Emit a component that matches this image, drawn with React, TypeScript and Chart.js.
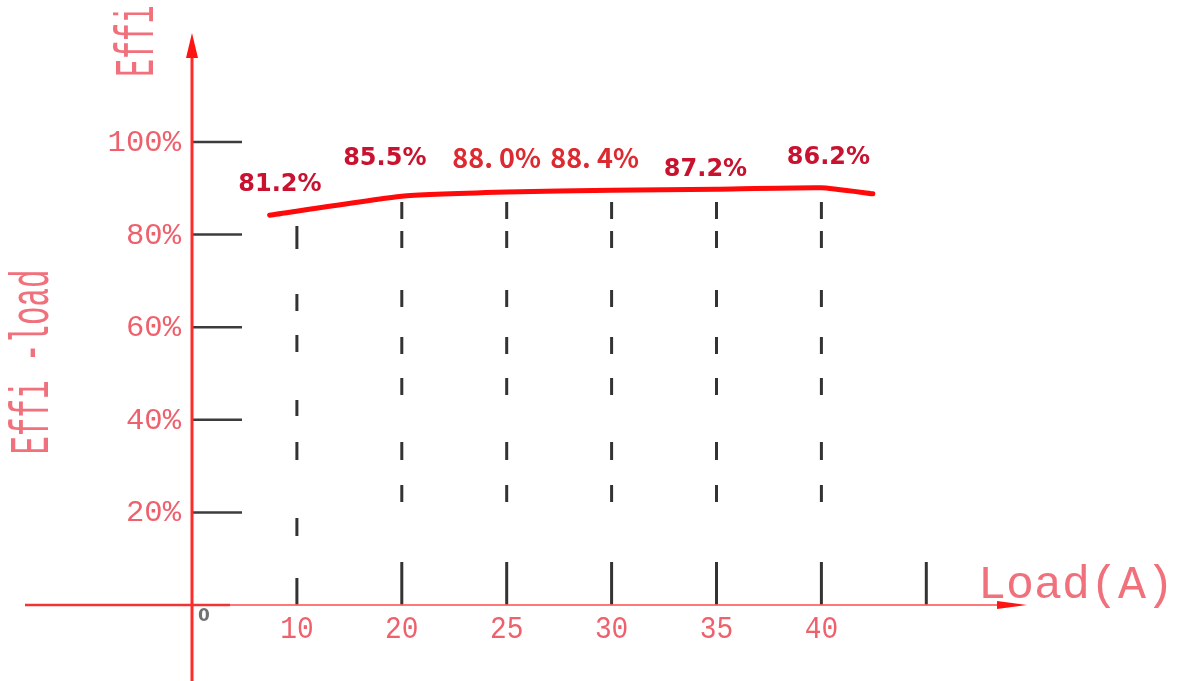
import { useEffect, useRef } from 'react';
import { Chart, registerables } from 'chart.js';

Chart.register(...registerables);

// ---------- data ----------
const loadTicks = ['10', '20', '25', '30', '35', '40', ''];
const effTicks = [20, 40, 60, 80, 100];
// curve, x in load-axis tick units (tick n = n), y in %
const curveLoad = [0.74, 2, 3, 4, 5, 6, 6.49];
const curveEff = [84.2, 88.3, 89.2, 89.6, 89.8, 90.1, 88.8];
const effLabels = ['81.2%', '85.5%', '88. 0%', '88. 4%', '87.2%', '86.2%'];
const xTitle = 'Load(A)';
const yTitle = 'Effi -load';
const yTopTitle = 'Effi';

// ---------- layout / style ----------
const W = 1184;
const H = 681;
const ORIGIN_X = 192;
const ORIGIN_Y = 605;
const UNIT_X = 104.9;
const UNIT_Y = 4.63;
const LABEL_DX = [-17, -17, -10, -17, -11, 7];
const LABEL_DY = [40, 14, 15, 15, 25, 13];
const LABEL_ALT = [false, false, true, true, false, false];
const DASH_FIRST = [27, 42, 18, 58, 18, 26, 16, 48, 17, 24, 17, 45, 23, 40];
const DASH_REST = [43, 60, 17, 25, 18, 47, 17, 24, 17, 30, 17, 42, 17, 12, 17, 40];
const CAD = 'rgb(238,96,108)';
const CAD_LIGHT = 'rgb(240,112,124)';

function cadText(
  ctx: CanvasRenderingContext2D,
  text: string,
  x: number,
  y: number,
  capH: number,
  sx: number,
  color: string,
  align: CanvasTextAlign,
  rotate = false
) {
  const size = capH / 0.6;
  ctx.save();
  ctx.translate(x, y);
  if (rotate) ctx.rotate(-Math.PI / 2);
  ctx.scale(sx, 1);
  ctx.font = `${size}px "Liberation Mono"`;
  ctx.fillStyle = color;
  ctx.textAlign = align;
  ctx.textBaseline = 'alphabetic';
  ctx.fillText(text, 0, capH / 2);
  ctx.restore();
}

const drawPlugin = {
  id: 'cadDrawing',
  beforeDatasetsDraw(chart: any) {
    const ctx: CanvasRenderingContext2D = chart.ctx;
    const xs = chart.scales.x;
    const ys = chart.scales.y;
    const x0 = xs.getPixelForValue(0);
    const y0 = ys.getPixelForValue(0);

    ctx.save();
    // dashed verticals
    ctx.strokeStyle = '#333';
    ctx.lineWidth = 3;
    loadTicks.forEach((_, i) => {
      const px = xs.getPixelForValue(i + 1);
      ctx.beginPath();
      if (i === loadTicks.length - 1) {
        ctx.setLineDash([]);
        ctx.moveTo(px, y0);
        ctx.lineTo(px, y0 - 43);
      } else {
        ctx.setLineDash(i === 0 ? DASH_FIRST : DASH_REST);
        ctx.moveTo(px, y0);
        ctx.lineTo(px, i === 0 ? ys.getPixelForValue(82.4) : ys.getPixelForValue(87.8));
      }
      ctx.stroke();
    });
    ctx.setLineDash([]);

    // y tick marks
    ctx.strokeStyle = '#3c3c3c';
    ctx.lineWidth = 2.5;
    effTicks.forEach((v) => {
      const py = ys.getPixelForValue(v);
      ctx.beginPath();
      ctx.moveTo(x0 + 1, py);
      ctx.lineTo(x0 + 50, py);
      ctx.stroke();
    });

    // x axis
    ctx.lineWidth = 2.5;
    ctx.strokeStyle = '#f03434';
    ctx.beginPath();
    ctx.moveTo(25, y0);
    ctx.lineTo(x0 + 38, y0);
    ctx.stroke();
    ctx.lineWidth = 2;
    ctx.strokeStyle = 'rgba(255,95,95,0.85)';
    ctx.beginPath();
    ctx.moveTo(x0 + 38, y0);
    ctx.lineTo(1000, y0);
    ctx.stroke();
    ctx.fillStyle = '#ff1414';
    ctx.beginPath();
    ctx.moveTo(1027, y0);
    ctx.lineTo(997, y0 - 4);
    ctx.lineTo(997, y0 + 4);
    ctx.closePath();
    ctx.fill();

    // y axis
    ctx.lineWidth = 3;
    ctx.strokeStyle = '#ff2a2a';
    ctx.beginPath();
    ctx.moveTo(x0, H);
    ctx.lineTo(x0, 52);
    ctx.stroke();
    ctx.fillStyle = '#ff1414';
    ctx.beginPath();
    ctx.moveTo(x0, 33);
    ctx.lineTo(x0 - 6, 58);
    ctx.lineTo(x0 + 6, 58);
    ctx.closePath();
    ctx.fill();

    // y tick labels
    effTicks.forEach((v) => {
      cadText(ctx, `${v}%`, x0 - 11, ys.getPixelForValue(v), 18, 1.02, CAD, 'right');
    });
    // x tick labels
    loadTicks.forEach((t, i) => {
      if (!t) return;
      cadText(ctx, t, xs.getPixelForValue(i + 1), y0 + 23, 19, 0.88, CAD, 'center');
    });

    // origin
    ctx.font = 'bold 17px "DejaVu Sans"';
    ctx.fillStyle = '#727272';
    ctx.textAlign = 'center';
    ctx.textBaseline = 'alphabetic';
    ctx.fillText('0', x0 + 12, y0 + 16);

    // titles
    cadText(ctx, xTitle, 978, y0 - 21, 28, 1.0, CAD_LIGHT, 'left');
    cadText(ctx, yTitle, 31, 362, 33, 0.56, CAD_LIGHT, 'center', true);
    cadText(ctx, yTopTitle, 136, 41, 33, 0.54, CAD_LIGHT, 'center', true);
    ctx.restore();
  },
  afterDatasetsDraw(chart: any) {
    const ctx: CanvasRenderingContext2D = chart.ctx;
    const xs = chart.scales.x;
    const ys = chart.scales.y;
    ctx.save();
    ctx.textAlign = 'center';
    effLabels.forEach((lab, i) => {
      const px = xs.getPixelForValue(i + 1) + LABEL_DX[i];
      const py = ys.getPixelForValue(100) + LABEL_DY[i];
      ctx.textBaseline = 'alphabetic';
      if (LABEL_ALT[i]) {
        ctx.font = 'bold 27px "Noto Sans CJK SC"';
        ctx.fillStyle = '#dc2a30';
        ctx.fillText(lab, px, py + 10.5);
      } else {
        ctx.font = 'bold 24px "DejaVu Sans"';
        ctx.fillStyle = '#c8122f';
        ctx.fillText(lab, px, py + 8.7);
      }
    });
    ctx.restore();
  },
};

export default function App() {
  const ref = useRef<HTMLCanvasElement | null>(null);
  useEffect(() => {
    document.body.style.margin = '0';
    if (!ref.current) return;
    const chart = new Chart(ref.current, {
      type: 'line',
      data: {
        datasets: [
          {
            data: curveLoad.map((x, i) => ({ x, y: curveEff[i] })),
            borderColor: '#ff0a0a',
            borderWidth: 5,
            pointRadius: 0,
            tension: 0.15,
            fill: false,
            borderCapStyle: 'round',
          },
        ],
      },
      options: {
        animation: false,
        responsive: true,
        maintainAspectRatio: false,
        events: [],
        layout: { padding: 0 },
        plugins: { legend: { display: false }, tooltip: { enabled: false } },
        scales: {
          x: {
            type: 'linear',
            display: false,
            min: -ORIGIN_X / UNIT_X,
            max: (W - ORIGIN_X) / UNIT_X,
          },
          y: {
            type: 'linear',
            display: false,
            min: -(H - ORIGIN_Y) / UNIT_Y,
            max: ORIGIN_Y / UNIT_Y,
          },
        },
      },
      plugins: [drawPlugin],
    } as any);
    return () => chart.destroy();
  }, []);
  return (
    <div style={{ position: 'fixed', left: 0, top: 0, width: W, height: H, background: '#fff' }}>
      <canvas ref={ref} />
    </div>
  );
}
